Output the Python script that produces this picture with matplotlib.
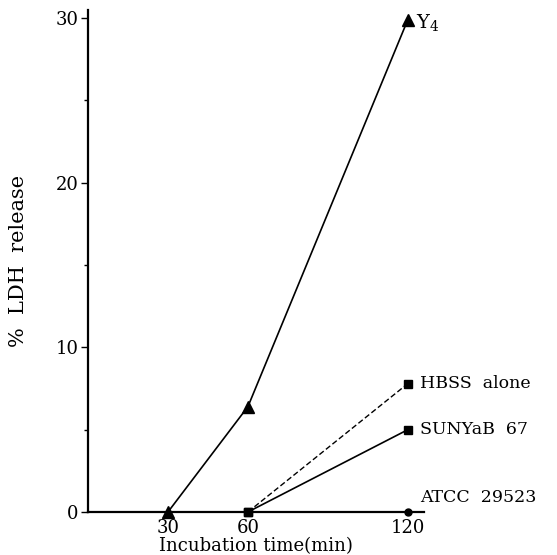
import matplotlib.pyplot as plt

times = [30, 60, 120]
y4 = [0, 6.4, 29.9]
hbss = [0, 7.8]
suny = [0, 5.0]
atcc = [0, 0, 0]
hbss_t = [60, 120]
suny_t = [60, 120]

plt.rcParams['font.family'] = ['DejaVu Serif']
plt.rcParams['mathtext.fontset'] = 'dejavuserif'

fig = plt.figure(figsize=(5.57, 5.55), dpi=100)
ax = fig.add_axes([0.158, 0.0775, 0.603, 0.905])

ax.plot(times, y4, color='black', lw=1.2, marker='^', ms=8, clip_on=False, zorder=5)
ax.plot(hbss_t, hbss, color='black', lw=1.0, ls=(0, (4, 2)), marker='s', ms=6, clip_on=False, zorder=5)
ax.plot(suny_t, suny, color='black', lw=1.2, marker='s', ms=6, clip_on=False, zorder=5)
ax.plot(times[-1:], atcc[-1:], color='black', lw=1.2, marker='o', ms=5, clip_on=False, zorder=5)

ax.set_xlim(0, 126)
ax.set_ylim(0, 30.5)
ax.set_xticks(times)
ax.set_yticks([0, 10, 20, 30])
ax.set_yticks([5, 15, 25], minor=True)
ax.tick_params(axis='x', length=0, labelsize=13, pad=5)
ax.tick_params(axis='y', which='major', length=5, width=1, labelsize=13, direction='out', pad=2)
ax.tick_params(axis='y', which='minor', length=3, width=1, direction='out')

for s in ['top', 'right']:
    ax.spines[s].set_visible(False)
for s in ['left', 'bottom']:
    ax.spines[s].set_linewidth(1.6)

ax.text(123, 29.7, 'Y$_4$', fontsize=14, va='center', clip_on=False)
ax.text(124.5, hbss[-1], 'HBSS  alone', fontsize=12.5, va='center', clip_on=False)
ax.text(124.5, suny[-1], 'SUNYaB  67', fontsize=12.5, va='center', clip_on=False)
ax.text(124.5, 0.9, 'ATCC  29523', fontsize=12.5, va='center', clip_on=False)

ax.set_xlabel('Incubation time(min)', fontsize=13, labelpad=0)
ax.set_ylabel('%  LDH  release', fontsize=15, labelpad=20)

fig.savefig('out.png', dpi=100)
